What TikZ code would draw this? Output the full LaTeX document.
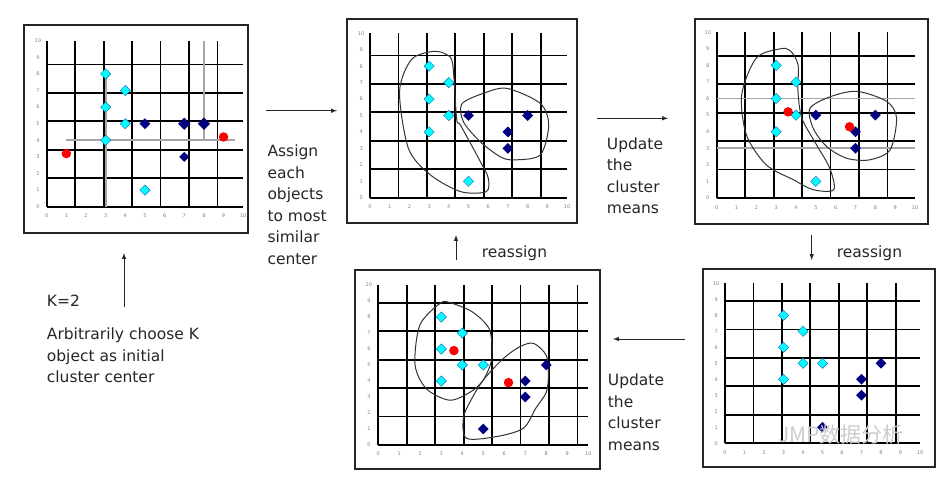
\documentclass[tikz,border=0pt]{standalone}
\usepackage{fontspec}
\setmainfont{DejaVu Sans}
\newfontfamily\cjk{Noto Sans CJK SC}
\usetikzlibrary{shapes.geometric}

\definecolor{navypt}{RGB}{0,0,128}
\definecolor{cyanpt}{RGB}{0,255,255}
\definecolor{txt}{RGB}{38,38,38}

\tikzset{
  cpt/.style={diamond,fill=cyanpt,draw=cyan!45!blue,line width=0.4pt,inner sep=0pt,minimum size=10.5pt},
  npt/.style={diamond,fill=navypt,inner sep=0pt,minimum size=11pt},
  rpt/.style={circle,fill=red,inner sep=0pt,minimum size=9.5pt},
  tick/.style={font=\fontsize{5}{6}\selectfont,text=gray,inner sep=0pt},
  frame/.style={draw=black!85,line width=1.3pt},
  blob/.style={draw=black!80,line width=1pt},
  lbl/.style={font=\fontsize{15.5}{21.5}\selectfont,text=txt,align=left,anchor=west,inner sep=0pt},
}

% grid 0..10 with its tick numbers
\newcommand{\kgrid}[1]{%
  \draw[line width=1.8pt] (0,0) grid (10,10);
  \foreach \i in {0,...,10} {
    \node[tick] (#1x\i) at (\i,-0.56) {\i};
    \node[tick] (#1y\i) at (-0.45,\i) {\i};
  }
}

\begin{document}
\begin{tikzpicture}[x=1pt,y=-1pt]
    \useasboundingbox (0,0) rectangle (945,479);

    % Draw panel frames
    \draw[frame] (24,25) rectangle (248,233);
    \draw[frame] (347,19) rectangle (577,223);
    \draw[frame] (695,19) rectangle (928,224);
    \draw[frame] (355,270) rectangle (600,469);
    \draw[frame] (703,269) rectangle (935,467);

    % Panel 1: initial centers
    \begin{scope}[shift={(46.7pt,-206.7pt)},x=19.65pt,y=16.6pt]
        \kgrid{a}
        \draw[gray!70,line width=1.8pt] (1,4) -- (9.6,4);
        \draw[gray!70,line width=1.8pt] (3,0) -- (3,8);
        \draw[gray!70,line width=1.8pt] (8,4) -- (8,10);
        \foreach \x/\y [count=\i] in {3/8,4/7,3/6,4/5,3/4,5/1}
            \node[cpt] (ac\i) at (\x,\y) {};
        \node[npt] (an1) at (5,5) {};
        \node[npt,minimum size=12.5pt] (an2) at (7,5) {};
        \node[npt,minimum size=12.5pt] (an3) at (8,5) {};
        \node[npt,minimum size=10pt] (an4) at (7,3) {};
        \node[rpt] (ar1) at (1,3.2) {};
        \node[rpt] (ar2) at (9,4.2) {};
    \end{scope}

    % Panel 2: assigned clusters
    \begin{scope}[shift={(370pt,-197.7pt)},x=19.7pt,y=16.44pt]
        \kgrid{b}
        \draw[blob] plot[smooth cycle] coordinates {(3.2,8.9) (2.1,8.4) (1.5,6.45) (1.95,3.0) (3.05,1.4) (4.6,0.37) (5.9,0.37) (6.0,1.2) (5.6,2.2) (4.6,4.4) (4.4,4.8) (4.2,8.1) (3.9,8.7)};
        \draw[blob] plot[smooth cycle] coordinates {(4.66,5.7) (5.76,6.35) (6.95,6.65) (8.64,5.74) (9.07,4.42) (8.64,2.6) (7.3,2.3) (6.6,2.5) (5.6,3.4) (4.75,4.6)};
        \foreach \x/\y [count=\i] in {3/8,4/7,3/6,4/5,3/4,5/1}
            \node[cpt] (bc\i) at (\x,\y) {};
        \foreach \x/\y [count=\i] in {5/5,8/5,7/4,7/3}
            \node[npt] (bn\i) at (\x,\y) {};
    \end{scope}

    % Panel 3: updated means
    \begin{scope}[shift={(716.7pt,-198pt)},x=19.83pt,y=16.57pt]
        \kgrid{c}
        \draw[gray!70,line width=1.8pt] (0,6) -- (10,6);
        \draw[gray!70,line width=1.8pt] (0,3) -- (10,3);
        \draw[blob] plot[smooth cycle] coordinates {(3.19,9.0) (2.0,8.45) (1.26,6.24) (1.5,3.8) (2.5,2.0) (3.87,1.1) (4.87,0.5) (5.9,0.5) (5.7,1.8) (5.04,3.2) (4.3,4.8) (4.1,6.4) (4.1,8.05) (3.7,8.9)};
        \draw[blob] plot[smooth cycle] coordinates {(4.7,5.4) (5.7,6.1) (7.06,6.44) (8.57,5.83) (9.07,4.83) (8.74,2.9) (7.7,2.3) (6.55,2.4) (5.55,3.1) (4.87,4.2)};
        \foreach \x/\y [count=\i] in {3/8,4/7,3/6,4/5,3/4,5/1}
            \node[cpt] (cc\i) at (\x,\y) {};
        \foreach \x/\y [count=\i] in {5/5,8/5,7/4,7/3}
            \node[npt] (cn\i) at (\x,\y) {};
        \node[rpt] (cr1) at (3.6,5.2) {};
        \node[rpt] (cr2) at (6.7,4.3) {};
    \end{scope}

    % Panel 4: reassigned clusters with new means
    \begin{scope}[shift={(378.3pt,-445pt)},x=21pt,y=16pt]
        \kgrid{d}
        \draw[blob] plot[smooth cycle] coordinates {(2.94,8.85) (1.98,7.5) (1.75,5) (2.3,3.5) (3.4,2.8) (4.37,3.3) (5,4.06) (5.4,5.4) (5.3,7.2) (4.5,8.3) (3.4,8.9)};
        \draw[blob] plot[smooth cycle] coordinates {(5,4.06) (5.95,5.4) (6.75,6.15) (7.4,6.35) (8.0,5.6) (8.1,4.4) (8.0,3.3) (7.5,2.3) (6.9,1.04) (5.6,0.52) (4.2,0.42) (4.05,1.67) (4.37,2.7)};
        \foreach \x/\y [count=\i] in {3/8,4/7,3/6,4/5,3/4,5/5}
            \node[cpt] (dc\i) at (\x,\y) {};
        \foreach \x/\y [count=\i] in {8/5,7/4,7/3,5/1}
            \node[npt] (dn\i) at (\x,\y) {};
        \node[rpt] (dr1) at (3.6,5.9) {};
        \node[rpt] (dr2) at (6.2,3.9) {};
    \end{scope}

    % Panel 5: reassigned points
    \begin{scope}[shift={(725pt,-443.3pt)},x=19.5pt,y=16pt]
        \kgrid{e}
        \foreach \x/\y [count=\i] in {3/8,4/7,3/6,4/5,5/5,3/4}
            \node[cpt] (ec\i) at (\x,\y) {};
        \foreach \x/\y [count=\i] in {8/5,7/4,7/3,5/1}
            \node[npt] (en\i) at (\x,\y) {};
    \end{scope}

    % Arrows between steps
    \coordinate (k0) at (124,307);   \coordinate (k1) at (124,253);
    \coordinate (a0) at (266,110.7); \coordinate (a1) at (337,110.7);
    \coordinate (u0) at (596.7,118.3); \coordinate (u1) at (668,118.3);
    \coordinate (d0) at (811.7,235); \coordinate (d1) at (811.7,260);
    \coordinate (l0) at (685,339);   \coordinate (l1) at (613,339);
    \coordinate (r0) at (456,260);   \coordinate (r1) at (456,235);
    \foreach \s/\e in {k0/k1,a0/a1,u0/u1,d0/d1,l0/l1,r0/r1}
        \draw[->,>=latex,line width=1pt,txt] (\s) -- (\e);

    % Labels
    \node[lbl] (kval) at (46.7,301) {K=2};
    \node[lbl] (init) at (46.7,355.3) {Arbitrarily choose K\\object as initial\\cluster center};
    \node[lbl] (assign) at (267.3,204.9) {Assign\\each\\objects\\to most\\similar\\center};
    \node[lbl] (upd1) at (606.7,175.5) {Update\\the\\cluster\\means};
    \node[lbl] (upd2) at (607.7,412.4) {Update\\the\\cluster\\means};
    \node[lbl] (re1) at (481.7,253) {reassign};
    \node[lbl] (re2) at (836.7,253) {reassign};

    % watermark
    \node[anchor=west,inner sep=0pt,font=\cjk\fontsize{21}{21}\selectfont,text=gray!40] (wm) at (778,435) {JMP数据分析};
\end{tikzpicture}
\end{document}
